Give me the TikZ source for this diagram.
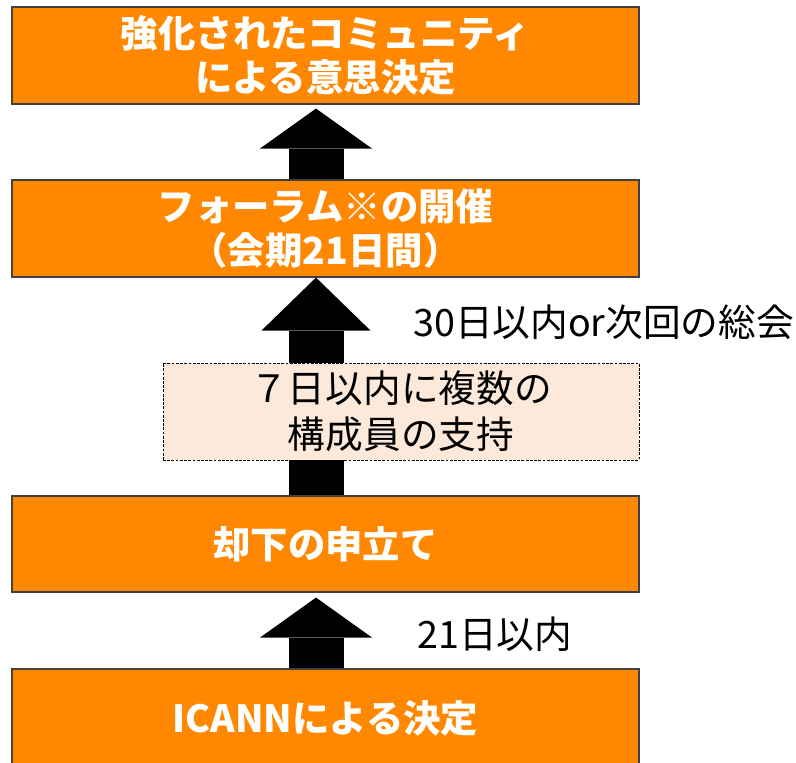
\documentclass[tikz,border=0pt]{standalone}
\usepackage{fontspec}
\newfontfamily\jpfont{Noto Sans CJK JP}
\usepackage{xcolor}
\usetikzlibrary{arrows.meta,calc}
\definecolor{boxorange}{RGB}{255,136,0}
\definecolor{boxpeach}{RGB}{253,233,217}

\tikzset{
  stagebox/.style={draw=black!75, line width=0.8pt, fill=boxorange, minimum width=15.675cm,
    text width=15cm, align=center, text=white, inner sep=0pt,
    font=\jpfont\bfseries\fontsize{26.6}{31}\selectfont},
  notebox/.style={draw, line width=0.5pt, dash pattern=on 2pt off 1pt, fill=boxpeach,
    minimum width=11.9cm, minimum height=2.425cm, align=center, inner sep=0pt,
    font=\jpfont\fontsize{26.8}{33}\selectfont},
  steplabel/.style={anchor=west, inner sep=0pt, font=\jpfont\fontsize{26.8}{31}\selectfont},
  uparrow/.style={line width=1.375cm, -{Triangle[length=1cm, width=2.8cm, line width=0pt]}},
}

\begin{document}
\begin{tikzpicture}

    \useasboundingbox (0,0) rectangle (19.9,-19.05);
    \node[stagebox, minimum height=2.425cm] (community) at (8.1375,-1.3875) {強化されたコミュニティ\\による意思決定};
    \node[stagebox, minimum height=2.425cm] (forum) at (8.1375,-5.7125) {フォーラム※の開催\\（会期21日間）};
    \node[stagebox, minimum height=2.4cm] (rejection) at (8.1375,-13.6) {却下の申立て};
    \node[stagebox, minimum height=2.475cm] (icann) at (8.1375,-17.9625) {ICANNによる決定};
    \coordinate (axis) at (7.9,0);
    \draw[uparrow, shorten >=0.1cm] (axis |- forum.north) -- (axis |- community.south);
    \draw[uparrow, -{Triangle[length=1.325cm, width=2.725cm, line width=0pt]}] (axis |- rejection.north) -- (axis |- forum.south);
    \draw[uparrow, shorten >=0.125cm] (axis |- icann.north) -- (axis |- rejection.south);
    \node[notebox] (support) at (10.025,-10.2875) {７日以内に複数の\\構成員の支持};
    \node[steplabel] (assemblylabel) at (10.325,-8.05) {30日以内or次回の総会};
    \node[steplabel] (daylabel) at (10.425,-15.85) {21日以内};
    \end{tikzpicture}
\end{document}
